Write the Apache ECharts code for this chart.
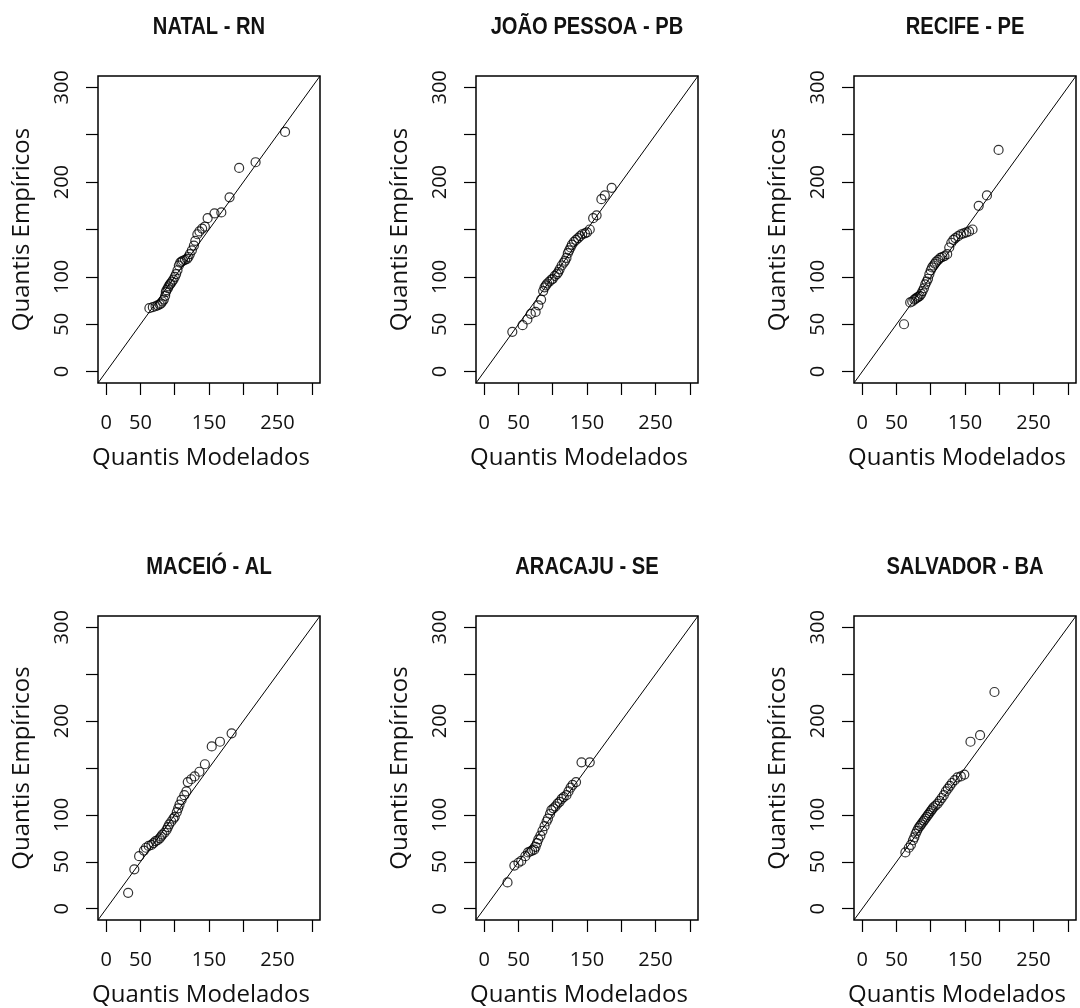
<!DOCTYPE html>
<html>
<head>
<meta charset="utf-8">
<script src="https://cdn.jsdelivr.net/npm/echarts@6/dist/echarts.min.js"></script>
<style>html,body{margin:0;padding:0;background:#fff}#c{width:1080px;height:1008px}</style>
</head>
<body>
<div id="c"></div>
<script>
// Panel titles
const titles = ['NATAL - RN', 'JOÃO PESSOA - PB', 'RECIFE - PE', 'MACEIÓ - AL', 'ARACAJU - SE', 'SALVADOR - BA'];
const xName = 'Quantis Modelados';
const yName = 'Quantis Empíricos';
const axisLimits = [-12, 312];
const tickValues = [0, 50, 100, 150, 200, 250, 300];
const xLabelValues = [0, 50, 150, 250];
const yLabelValues = [0, 50, 100, 200, 300];

// [modelled quantile, empirical quantile]
const natal = [[63,67],[68,68],[72,69],[75,70],[78,71],[80,72],[82,74],[84,76],[86,80],[87,84],[88,86],[90,88],[91,90],[93,92],[94,93],[96,95],[98,97],[100,100],[102,103],[104,107],[106,112],[108,115],[110,116],[112,117],[115,118],[118,119],[120,121],[122,124],[125,128],[128,133],[130,138],[133,145],[136,148],[140,151],[144,153],[148,162],[158,167],[168,168],[180,184],[194,215],[218,221],[261,253]];
const joaoPessoa = [[41,42],[56,49],[63,55],[68,61],[75,63],[79,70],[83,76],[86,85],[88,89],[90,91],[92,93],[95,95],[98,97],[100,98],[103,101],[106,103],[108,105],[110,108],[113,112],[116,115],[118,117],[120,120],[122,125],[124,128],[126,131],[128,134],[131,137],[134,139],[137,141],[140,143],[143,145],[147,146],[150,147],[154,150],[159,162],[164,165],[171,182],[176,186],[186,194]];
const recife = [[61,50],[70,73],[73,74],[76,76],[78,77],[80,78],[82,79],[84,80],[86,82],[88,85],[90,88],[92,92],[94,95],[96,98],[98,103],[100,107],[102,110],[104,112],[106,114],[108,116],[111,118],[114,120],[117,121],[120,122],[124,124],[127,131],[130,136],[133,139],[136,141],[140,143],[144,145],[148,146],[152,147],[156,148],[161,150],[170,175],[182,186],[199,234]];
const maceio = [[32,17],[41,42],[48,56],[55,62],[58,65],[62,67],[66,68],[69,70],[72,72],[75,73],[78,75],[80,77],[82,79],[85,81],[88,84],[90,87],[92,90],[95,93],[98,96],[100,98],[103,103],[105,107],[107,111],[110,116],[114,121],[117,125],[119,135],[124,138],[129,141],[136,146],[144,154],[154,173],[166,178],[183,187]];
const aracaju = [[34,28],[44,46],[50,49],[54,51],[60,56],[64,60],[67,61],[70,62],[73,63],[75,66],[77,70],[79,74],[82,78],[85,83],[88,88],[91,93],[93,96],[96,101],[98,105],[101,107],[104,109],[107,112],[110,114],[113,117],[116,119],[120,121],[123,125],[126,129],[129,132],[134,135],[142,156],[154,156]];
const salvador = [[63,60],[68,65],[71,68],[74,73],[76,76],[78,80],[80,83],[82,86],[84,88],[86,90],[88,92],[90,94],[92,96],[94,98],[96,100],[98,102],[100,104],[102,106],[104,108],[107,110],[110,112],[113,115],[116,118],[119,121],[122,125],[125,128],[128,131],[131,134],[135,137],[139,140],[144,141],[149,143],[158,178],[172,185],[193,231]];
const panels = [natal, joaoPessoa, recife, maceio, aracaju, salvador];

const colLeft = [98, 476, 854];
const rowTop = [76, 616];
const boxW = 222, boxH = 307;
const FONT = '"Open Sans", "DejaVu Sans", sans-serif';

const grid = [], xAxis = [], yAxis = [], series = [], graphic = [];
panels.forEach((pts, i) => {
  const c = i % 3, r = Math.floor(i / 3);
  grid.push({left: colLeft[c], top: rowTop[r], width: boxW, height: boxH, show: true,
    borderColor: '#000', borderWidth: 1.5, backgroundColor: 'transparent', containLabel: false});
  graphic.push({type: 'text', x: colLeft[c] + boxW / 2, y: rowTop[r] - 49, scaleX: 0.84,
    style: {text: titles[i], align: 'center', verticalAlign: 'middle', fill: '#111',
      font: 'bold 24px "Liberation Sans", Arial, sans-serif'}});
  xAxis.push({type: 'value', gridIndex: i, min: axisLimits[0], max: axisLimits[1],
    axisLine: {show: false, onZero: false}, splitLine: {show: false},
    axisTick: {show: true, inside: false, length: 12, customValues: tickValues, lineStyle: {color: '#000', width: 1.2}},
    axisLabel: {customValues: xLabelValues, margin: 30, fontSize: 20, fontFamily: FONT, color: '#111'},
    name: xName, nameLocation: 'middle', nameGap: 63,
    nameTextStyle: {fontSize: 24, fontFamily: FONT, color: '#111', padding: [0, 16, 0, 0]}});
  yAxis.push({type: 'value', gridIndex: i, min: axisLimits[0], max: axisLimits[1],
    axisLine: {show: false, onZero: false}, splitLine: {show: false},
    axisTick: {show: true, inside: false, length: 12, customValues: tickValues, lineStyle: {color: '#000', width: 1.2}},
    axisLabel: {customValues: yLabelValues, rotate: 90, margin: 26, fontSize: 20, fontFamily: FONT, color: '#111'},
    name: yName, nameLocation: 'middle', nameGap: 64,
    nameTextStyle: {fontSize: 24, fontFamily: FONT, color: '#111'}});
  series.push({type: 'line', xAxisIndex: i, yAxisIndex: i, silent: true, showSymbol: false, clip: true,
    data: [[axisLimits[0], axisLimits[0]], [axisLimits[1], axisLimits[1]]],
    lineStyle: {color: '#000', width: 1}, z: 1});
  series.push({type: 'scatter', xAxisIndex: i, yAxisIndex: i, data: pts, symbol: 'circle', symbolSize: 9,
    itemStyle: {color: 'rgba(0,0,0,0)', borderColor: '#000', borderWidth: 1.2}, z: 2});
});

const chart = echarts.init(document.getElementById('c'), null, {renderer: 'canvas'});
chart.setOption({animation: false, backgroundColor: '#fff', graphic, grid, xAxis, yAxis, series});
</script>
</body>
</html>
